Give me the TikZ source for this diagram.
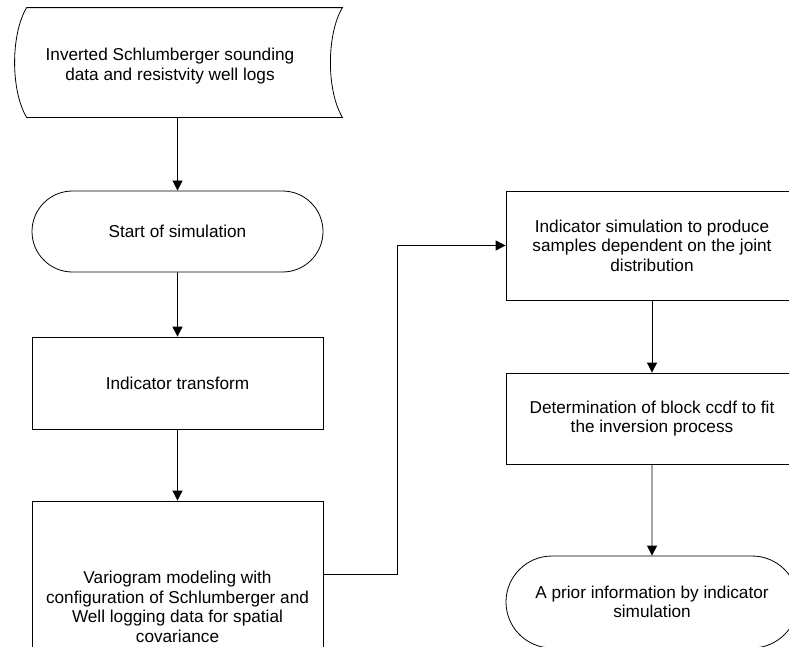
\documentclass[tikz,border=0pt]{standalone}
\usepackage{fontspec}
\setmainfont{Liberation Sans}
\usepackage{tikz}
\usetikzlibrary{arrows.meta,shapes.misc}
\tikzstyle{step box} = [draw,rectangle,align=center,inner sep=0pt]
\tikzstyle{term box} = [draw,rounded rectangle,align=center,inner sep=0pt]
\tikzstyle{arrow} = [-{Triangle[length=10pt,width=10pt]}]

\begin{document}
\begin{tikzpicture}[x=1pt, y=-1pt, line width=0.8pt,
        every node/.style={font=\fontsize{17.2}{19.5}\selectfont}]
        \useasboundingbox (0,0) rectangle (789,646);

        % left column
        \node[inner sep=0pt, minimum width=315pt, minimum height=109pt] (data) at (184.5,62.5) {};
        \node[align=center] (datatext) at (170,66) {Inverted Schlumberger sounding\\data and resistvity well logs};
        \node[term box, minimum width=291pt, minimum height=81pt] (start) at (177.5,231.5) {Start of simulation};
        \node[step box, minimum width=291pt, minimum height=92pt] (trans) at (177.5,383) {Indicator transform};
        \node[step box, minimum width=291pt, minimum height=212pt] (vario) at (177.5,607)
          {Variogram modeling with\\configuration of Schlumberger and\\Well logging data for spatial\\covariance};

        % right column
        \node[step box, minimum width=292pt, minimum height=109pt] (indsim) at (652,245.5)
          {Indicator simulation to produce\\samples dependent on the joint\\distribution};
        \node[step box, minimum width=292pt, minimum height=91pt] (block) at (652,418.5)
          {Determination of block ccdf to fit\\the inversion process};
        \node[term box, minimum width=292pt, minimum height=92pt] (prior) at (652,602)
          {A prior information by indicator\\simulation};

        % stored data outline
        \draw (data.north west) -- (data.north east)
          .. controls ([xshift=-16pt,yshift=-27pt]data.north east) and ([xshift=-16pt,yshift=27pt]data.south east) .. (data.south east)
          -- (data.south west)
          .. controls ([xshift=-16pt,yshift=27pt]data.south west) and ([xshift=-16pt,yshift=-27pt]data.north west) .. (data.north west);

        % flow edges
        \coordinate (bend) at (397,574);
        \draw[arrow] (start.north |- data.south) -- (start);
        \draw[arrow] (start) -- (trans);
        \draw[arrow] (trans) -- (vario);
        \draw[arrow] (vario.east |- bend) -- (bend) |- (indsim.west);
        \draw[arrow] (indsim) -- (block);
        \draw[arrow] (block) -- (prior);

      \end{tikzpicture}
\end{document}
